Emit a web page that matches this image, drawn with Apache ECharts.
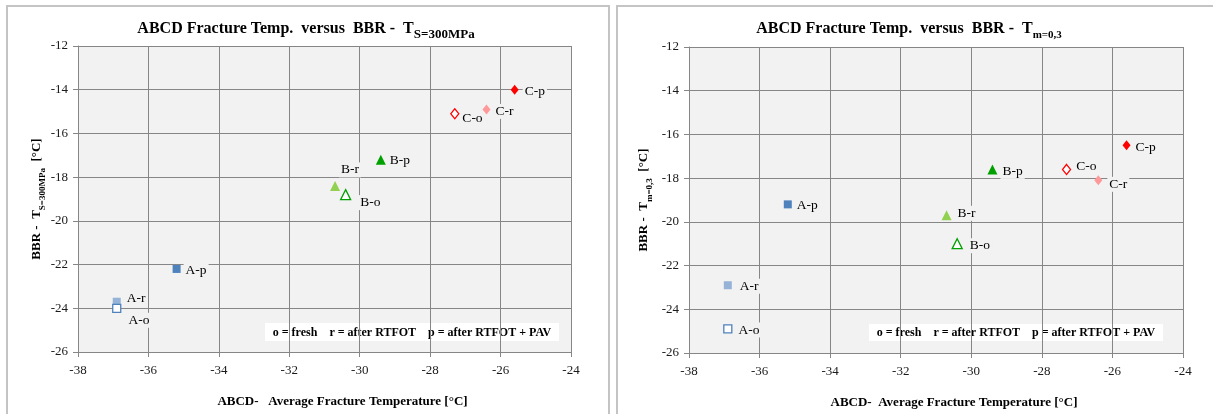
<!DOCTYPE html>
<html><head><meta charset="utf-8">
<script src="https://cdn.jsdelivr.net/npm/echarts@6/dist/echarts.min.js"></script>
<style>html,body{margin:0;padding:0;background:#fff}#c{width:1213px;height:414px}</style>
</head><body><div id="c"></div>
<script>
// ---------------- data ----------------
const pointNames = ['A-r','A-o','A-p','B-o','B-r','B-p','C-o','C-r','C-p'];
const abcdFractureTemp = [-36.9,-36.9,-35.2,-30.4,-30.7,-29.4,-27.3,-26.4,-25.6];
const bbrTs300 = [-23.7,-24.0,-22.2,-18.8,-18.4,-17.2,-15.1,-14.9,-14.0];
const bbrTm03  = [-22.9,-24.9,-19.2,-21.0,-19.7,-17.6,-17.6,-18.1,-16.5];
const xTickMin = -38, xTickMax = -24, yTickMin = -26, yTickMax = -12, tickStep = 2;
const legendNote = 'o = fresh    r = after RTFOT    p = after RTFOT + PAV';

// ---------------- styles ----------------
const FONT = '"Liberation Serif","Times New Roman",serif';
const PLOT_BG = '#F2F2F2';
const markerStyle = {
  'A-o': {symbol:'rect', size:8, color:'#FFFFFF', border:'#4F81BD'},
  'A-r': {symbol:'rect', size:8, color:'#95B3D7'},
  'A-p': {symbol:'rect', size:8, color:'#4F81BD'},
  'B-o': {symbol:'triangle', size:10, color:'#FFFFFF', border:'#00A000'},
  'B-r': {symbol:'triangle', size:10, color:'#92D050'},
  'B-p': {symbol:'triangle', size:10, color:'#00A000'},
  'C-o': {symbol:'diamond', size:[8,10], color:'#FFFFFF', border:'#FF0000'},
  'C-r': {symbol:'diamond', size:[8,10], color:'#FF9999'},
  'C-p': {symbol:'diamond', size:[8,10], color:'#FF0000'}
};
// label placement: [dx from marker centre to text start, dy]
const labelShift = [
  {'A-o':[11,12],'A-r':[10,-3],'A-p':[9,2],'B-o':[14,8],'B-r':[6,-16],'B-p':[9,1],'C-o':[7,5],'C-r':[9,2],'C-p':[10,2]},
  {'A-o':[10,1],'A-r':[12,1],'A-p':[9,1],'B-o':[12,2],'B-r':[11,-2],'B-p':[10,2],'C-o':[9,-3],'C-r':[11,4],'C-p':[9,2]}
];
const panels = [
  {values: bbrTs300, title:'S=300MPa', titleX:306, grid:{left:78, top:46, width:493, height:306},
   xName:'ABCD-   Average Fracture Temperature [°C]', yGap:30, subSize:13, noteBox:[265,323,294,18]},
  {values: bbrTm03, title:'m=0,3', titleX:909, grid:{left:689, top:47, width:494, height:306},
   xName:'ABCD-  Average Fracture Temperature [°C]', yGap:35, subSize:11, noteBox:[869,324,294,17]}
];

const grids = [], xAxes = [], yAxes = [], series = [], titles = [], graphics = [];
const axisCommon = {
  type:'value', interval: tickStep,
  axisLine:{show:true, onZero:false, lineStyle:{color:'#868686', width:1}},
  axisTick:{show:true, inside:false, length:5, lineStyle:{color:'#868686'}},
  splitLine:{show:true, lineStyle:{color:'#868686', width:1}},
  axisLabel:{color:'#1a1a1a', fontFamily:FONT, fontSize:13}
};

panels.forEach((p, pi) => {
  grids.push(Object.assign({show:true, backgroundColor:PLOT_BG, borderWidth:0, containLabel:false}, p.grid));
  xAxes.push(Object.assign({}, axisCommon, {
    gridIndex:pi, min:xTickMin, max:xTickMax,
    axisLabel:Object.assign({}, axisCommon.axisLabel, {margin:12}),
    name:p.xName, nameLocation:'middle', nameGap:43,
    nameTextStyle:{fontFamily:FONT, fontWeight:'bold', fontSize:13, color:'#000', padding:[0,0,0,36]}
  }));
  yAxes.push(Object.assign({}, axisCommon, {
    gridIndex:pi, min:yTickMin, max:yTickMax,
    axisLabel:Object.assign({}, axisCommon.axisLabel, {margin:10}),
    name:'{m|BBR -  T}{s|' + p.title + '}{m|  [°C]}', nameLocation:'middle', nameRotate:90, nameGap:p.yGap,
    nameTextStyle:{rich:{
      m:{fontFamily:FONT, fontWeight:'bold', fontSize:13, color:'#000', lineHeight:16, padding:[0,0,4,0], verticalAlign:'bottom'},
      s:{fontFamily:FONT, fontWeight:'bold', fontSize:9, color:'#000', lineHeight:12, verticalAlign:'bottom'}
    }}
  }));
  titles.push({
    text:'{m|ABCD Fracture Temp.  versus  BBR -  T}{s|' + p.title + '}',
    left:p.titleX, top:23, textAlign:'center', padding:0,
    textStyle:{rich:{
      m:{fontFamily:FONT, fontWeight:'bold', fontSize:16, color:'#000', lineHeight:18, padding:[0,0,4,0], verticalAlign:'bottom'},
      s:{fontFamily:FONT, fontWeight:'bold', fontSize:p.subSize, color:'#000', lineHeight:14, verticalAlign:'bottom'}
    }}
  });
  pointNames.forEach((name, i) => {
    const ms = markerStyle[name];
    const halfW = (Array.isArray(ms.size) ? ms.size[0] : ms.size) / 2;
    const sh = labelShift[pi][name];
    series.push({
      type:'scatter', name:name, xAxisIndex:pi, yAxisIndex:pi,
      data:[[abcdFractureTemp[i], p.values[i]]],
      symbol:ms.symbol, symbolSize:ms.size, z: 3 + i,
      itemStyle:{color:ms.color, borderColor:ms.border || ms.color, borderWidth:ms.border ? 1.3 : 0, opacity:1},
      label:{show:true, formatter:name, position:'right', distance:0,
        offset:[sh[0] - halfW - 2, sh[1]],
        fontFamily:FONT, fontSize:13.5, color:'#000', backgroundColor:PLOT_BG, padding:[1,2,0,2]},
      emphasis:{disabled:true}, animation:false
    });
  });
  const nb = p.noteBox;
  graphics.push({type:'group', z:100, children:[
    {type:'rect', shape:{x:nb[0], y:nb[1], width:nb[2], height:nb[3]}, style:{fill:'#FFFFFF', stroke:null}},
    {type:'text', x:nb[0] + nb[2]/2, y:nb[1] + nb[3]/2 + 0.5, style:{text:legendNote, fontFamily:FONT, fontWeight:'bold', fontSize:12, fill:'#000', textAlign:'center', textVerticalAlign:'middle'}}
  ]});
});
// panel frames
graphics.push({type:'rect', z:0, silent:true, shape:{x:7, y:6, width:602, height:430}, style:{fill:null, stroke:'#C4C4C4', lineWidth:2}});
graphics.push({type:'rect', z:0, silent:true, shape:{x:617, y:6, width:620, height:430}, style:{fill:null, stroke:'#C4C4C4', lineWidth:2}});

const chart = echarts.init(document.getElementById('c'), null, {renderer:'canvas'});
chart.setOption({
  animation:false, backgroundColor:'#FFFFFF',
  title:titles, grid:grids, xAxis:xAxes, yAxis:yAxes, series:series, graphic:graphics,
  tooltip:{show:false}
});
</script></body></html>
